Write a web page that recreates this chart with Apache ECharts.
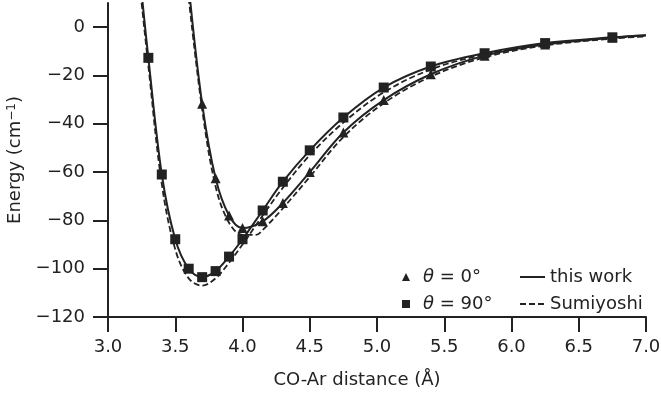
<!DOCTYPE html>
<html><head><meta charset="utf-8">
<script src="https://cdn.jsdelivr.net/npm/echarts@6/dist/echarts.min.js"></script>
<style>html,body{margin:0;padding:0;background:#fff}#c{width:661px;height:401px}</style>
</head><body><div id="c"></div>
<script>
// Markers (this work)
const tri0X = [3.7, 3.8, 3.9, 4.0, 4.15, 4.3, 4.5, 4.75, 5.05, 5.4, 5.8, 6.25, 6.75];
const tri0Y = [-31.7, -62.6, -78, -83.2, -80.4, -72.8, -60, -43.6, -30.2, -19.5, -11.8, -7.2, -4.4];
const sq90X = [3.3, 3.4, 3.5, 3.6, 3.7, 3.8, 3.9, 4.0, 4.15, 4.3, 4.5, 4.75, 5.05, 5.4, 5.8, 6.25, 6.75];
const sq90Y = [-12.7, -61, -87.8, -100, -103.5, -101, -95, -87.8, -75.9, -64, -51, -37.4, -25, -16.3, -10.8, -6.6, -4.2];
// Solid curves (this work)
const work0X = [3.6, 3.7, 3.8, 3.9, 4.0, 4.15, 4.3, 4.5, 4.75, 5.05, 5.4, 5.8, 6.25, 6.75, 7.0];
const work0Y = [17, -31.7, -62.6, -78, -83.2, -80.4, -72.8, -60, -43.6, -30.2, -19.5, -11.8, -7.2, -4.4, -3.5];
const work90X = [3.25, 3.3, 3.4, 3.5, 3.6, 3.7, 3.8, 3.9, 4.0, 4.15, 4.3, 4.5, 4.75, 5.05, 5.4, 5.8, 6.25, 6.75, 7.0];
const work90Y = [14, -12.7, -61, -87.8, -100, -103.5, -101, -95, -87.8, -75.9, -64, -51, -37.4, -25, -16.3, -10.8, -6.6, -4.2, -3.3];
// Dashed curves (Sumiyoshi)
const sumi0X = [3.6, 3.7, 3.8, 3.9, 4.0, 4.1, 4.15, 4.3, 4.5, 4.75, 5.05, 5.4, 5.8, 6.25, 6.75, 7.0];
const sumi0Y = [12, -34, -66, -81, -86, -86, -84, -75, -62, -45.5, -31.5, -20.5, -12.5, -7.6, -4.7, -3.8];
const sumi90X = [3.25, 3.3, 3.4, 3.5, 3.6, 3.7, 3.8, 3.9, 4.0, 4.15, 4.3, 4.5, 4.75, 5.05, 5.4, 5.8, 6.25, 6.75, 7.0];
const sumi90Y = [10, -16, -65, -92, -104, -107, -104, -97.5, -90, -78, -66.5, -53, -39.5, -27, -17.5, -11.3, -7, -4.5, -3.6];
// Axes
const yTicks = [-120, -100, -80, -60, -40, -20, 0];
const xTicks = [3.0, 3.5, 4.0, 4.5, 5.0, 5.5, 6.0, 6.5, 7.0];

const pairs = (xs, ys) => xs.map((x, i) => [x, ys[i]]);
const ink = '#222';
const font = "'DejaVu Sans', 'Noto Sans', sans-serif";

const chart = echarts.init(document.getElementById('c'));
chart.setOption({
  animation: false,
  backgroundColor: '#fff',
  textStyle: { fontFamily: font, color: ink },
  grid: { left: 108, right: 15, top: 3, bottom: 84, containLabel: false, outerBoundsMode: 'none' },
  xAxis: {
    type: 'value', min: 3.0, max: 7.0, interval: 0.5,
    name: 'CO-Ar distance (Å)', nameLocation: 'middle', nameGap: 54,
    nameTextStyle: { fontSize: 18, color: ink, fontFamily: font, padding: [0, 40, 0, 0] },
    axisLine: { show: true, onZero: false, lineStyle: { color: ink, width: 2 } },
    axisTick: { show: true, length: 15, inside: false, lineStyle: { color: ink, width: 2 }, customValues: xTicks },
    axisLabel: { fontSize: 18, color: ink, margin: 21, fontFamily: font, customValues: xTicks,
      formatter: v => v.toFixed(1) },
    splitLine: { show: false }
  },
  yAxis: {
    type: 'value', min: -120, max: 10, interval: 20,
    name: 'Energy (cm{sup|\u22121})', nameLocation: 'middle', nameGap: 78, nameRotate: 90,
    nameTextStyle: { fontSize: 18, color: ink, fontFamily: font,
      rich: { sup: { fontSize: 12, verticalAlign: 'top', padding: [0, 0, 8, 0], color: ink, fontFamily: font } } },
    axisLine: { show: true, onZero: false, lineStyle: { color: ink, width: 2 } },
    axisTick: { show: true, length: 15, inside: false, lineStyle: { color: ink, width: 2 }, customValues: yTicks },
    axisLabel: { fontSize: 18, color: ink, margin: 23, fontFamily: font, customValues: yTicks,
      formatter: v => String(v).replace('-', '\u2212') },
    splitLine: { show: false }
  },
  legend: [
    {
      data: ['θ = 0°', 'θ = 90°'], orient: 'vertical', left: 402, top: 268, padding: 0,
      itemWidth: 8, itemHeight: 8, itemGap: 9,
      formatter: n => '{s|}{i|θ}' + n.slice(1),
      textStyle: { fontSize: 18, color: ink, fontFamily: font,
        rich: { s: { width: 8 }, i: { fontStyle: 'italic', fontSize: 18, fontFamily: font, color: ink } } }
    },
    {
      data: ['this work', 'Sumiyoshi'], orient: 'vertical', left: 519, top: 268, padding: 0,
      itemWidth: 25, itemHeight: 8, itemGap: 9,
      itemStyle: { opacity: 0 },
      textStyle: { fontSize: 18, color: ink, fontFamily: font }
    }
  ],
  series: [
    { name: 'this work', type: 'line', data: pairs(work0X, work0Y), smooth: 0.35, showSymbol: false, symbol: 'none',
      lineStyle: { color: ink, width: 2 }, itemStyle: { color: ink }, clip: true, z: 3 },
    { name: 'this work', type: 'line', data: pairs(work90X, work90Y), smooth: 0.35, showSymbol: false, symbol: 'none',
      lineStyle: { color: ink, width: 2 }, itemStyle: { color: ink }, clip: true, z: 3 },
    { name: 'Sumiyoshi', type: 'line', data: pairs(sumi0X, sumi0Y), smooth: 0.35, showSymbol: false, symbol: 'none',
      lineStyle: { color: ink, width: 1.8, type: [6, 3] }, itemStyle: { color: ink }, clip: true, z: 2 },
    { name: 'Sumiyoshi', type: 'line', data: pairs(sumi90X, sumi90Y), smooth: 0.35, showSymbol: false, symbol: 'none',
      lineStyle: { color: ink, width: 1.8, type: [6, 3] }, itemStyle: { color: ink }, clip: true, z: 2 },
    { name: 'θ = 0°', type: 'scatter', data: pairs(tri0X, tri0Y), symbol: 'triangle', symbolSize: 10,
      itemStyle: { color: ink, opacity: 1 }, z: 4 },
    { name: 'θ = 90°', type: 'scatter', data: pairs(sq90X, sq90Y), symbol: 'rect', symbolSize: 10,
      itemStyle: { color: ink, opacity: 1 }, z: 4 }
  ]
});
</script>
</body></html>
